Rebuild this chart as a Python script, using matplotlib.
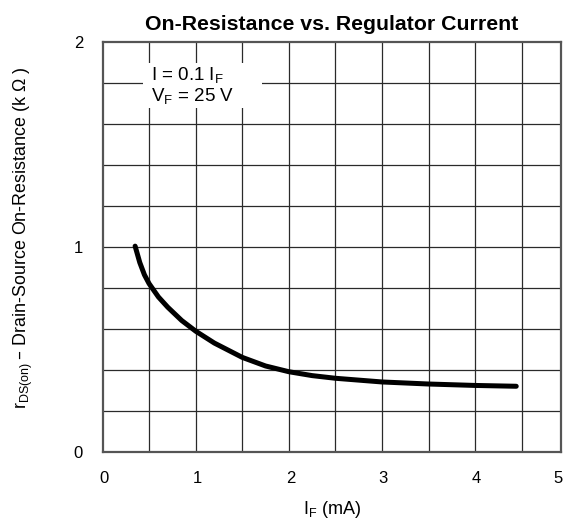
import numpy as np
import matplotlib
matplotlib.use("Agg")
import matplotlib.pyplot as plt
from matplotlib.patches import Rectangle

# curve: I_F (mA) vs r_DS(on) (kOhm)
i_f = [0.35, 0.40, 0.45, 0.5, 0.6, 0.7, 0.85, 1.0, 1.2, 1.5, 1.75, 2.0,
       2.25, 2.5, 3.0, 3.5, 4.0, 4.44]
r_ds = [1.005, 0.925, 0.865, 0.822, 0.757, 0.707, 0.642, 0.590, 0.532, 0.462, 0.420, 0.392,
        0.373, 0.360, 0.342, 0.332, 0.325, 0.321]

x_tick_pos = [0.02, 1.02, 2.02, 3.01, 4.01, 4.89]
x_tick_lab = ["0", "1", "2", "3", "4", "5"]
y_tick_pos = [0, 1, 2]
y_tick_lab = ["0", "1", "2"]

plt.rcParams["font.family"] = ["Liberation Sans", "DejaVu Sans"]

fig = plt.figure(figsize=(5.66, 5.25), dpi=100)
ax = fig.add_axes([0.1811, 0.139, 0.810, 0.7804])

ax.plot(i_f, r_ds, color="black", lw=3.6, solid_capstyle="round",
        solid_joinstyle="round", zorder=4)

ax.set_xlim(0, 4.92)
ax.set_ylim(0, 2)

ax.set_xticks(x_tick_pos)
ax.set_xticklabels(x_tick_lab, fontsize=12)
ax.set_yticks(y_tick_pos)
ax.set_yticklabels(y_tick_lab, fontsize=12)
ax.set_xticks(np.arange(0.5, 4.6, 0.5), minor=True)
ax.set_yticks(np.arange(0.2, 1.9, 0.2), minor=True)
ax.xaxis.remove_overlapping_locs = False
ax.yaxis.remove_overlapping_locs = False
ax.tick_params(which="both", length=0)
ax.tick_params(axis="x", pad=14)
ax.tick_params(axis="y", pad=14)
ax.grid(False, which="major")
ax.grid(True, which="minor", color="#2a2a2a", lw=0.9)
ax.set_axisbelow(True)

for s in ax.spines.values():
    s.set_color("#555555")
    s.set_linewidth(1.6)

ax.set_title("On-Resistance vs. Regulator Current", fontsize=15.3, fontweight="bold", pad=9)
ax.set_xlabel("I$_\\mathregular{F}$ (mA)", fontsize=13, labelpad=9)
ax.set_ylabel("r$_\\mathregular{DS(on)}$\u2009\u2013 Drain-Source On-Resistance (k \u03a9 )", fontsize=12.9)
ax.yaxis.set_label_coords(-0.148, 0.522)

# white box behind the conditions note
ax.add_patch(Rectangle((0.435, 1.678), 1.276, 0.22, facecolor="white", edgecolor="none", zorder=3))
ax.text(0.52, 1.785, "I = 0.1 I$_\\mathregular{F}$\nV$_\\mathregular{F}$ = 25 V",
        fontsize=13.5, va="center", ha="left", linespacing=1.0, zorder=5)

fig.savefig("out.png", dpi=100)
